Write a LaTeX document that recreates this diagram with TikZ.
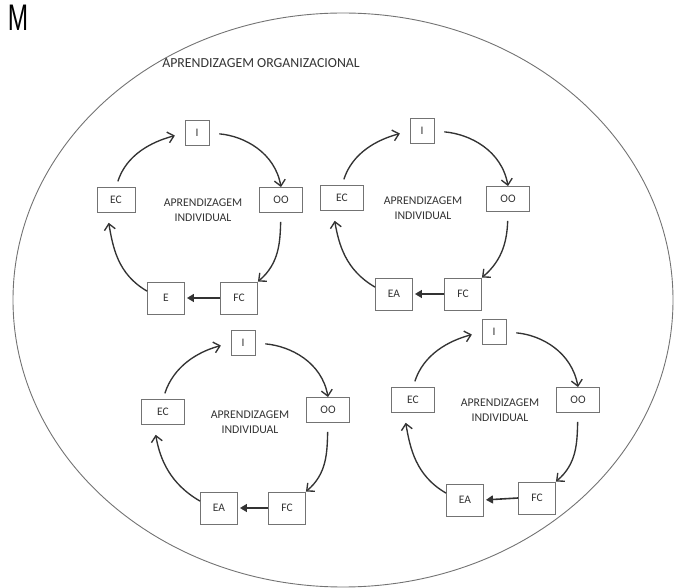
\documentclass[tikz,border=0pt]{standalone}
\usepackage{fontspec}
\setmainfont{Carlito}
\newfontfamily\narrowfont{Liberation Sans}
\usepackage{graphicx}
\usepackage{tikz}
\usetikzlibrary {arrows.meta,
                 positioning}
\definecolor{boxgray}{gray}{0.45}
\definecolor{inkgray}{gray}{0.2}
\tikzset{
        base/.style={draw=boxgray, line width=0.9pt, align=center,
                     inner sep=0pt, text=inkgray,
                     font=\fontsize{11.5}{12}\selectfont},
        small/.style={base, minimum width=24pt, minimum height=25pt},
        wide/.style={base, minimum width=43pt, minimum height=25pt},
        tall/.style={base, minimum width=37pt, minimum height=32pt},
        cyclename/.style={align=center, text=inkgray,
                          font=\fontsize{11.8}{15}\selectfont},
        myarrow/.style={-{Straight Barb[length=6pt, width=11pt]},
                        line width=1.35pt, draw=inkgray},
        myline/.style={-{Triangle[length=7pt, width=8pt]},
                       line width=1.6pt, draw=inkgray, shorten >=2pt},
 }
\begin{document}
\begin{tikzpicture}[x=1pt, y=1pt]
    \useasboundingbox (0,0) rectangle (675,587);
    \draw[boxgray, line width=0.9pt] (343,287) ellipse [x radius=330, y radius=287];
    \node (m) at (18,569) {\narrowfont\fontsize{37}{37}\selectfont\scalebox{0.66}[1]{M}};
    \node[cyclename, font=\fontsize{13.8}{15}\selectfont] (org) at (261,524)
        {APRENDIZAGEM ORGANIZACIONAL};

    \node[small] (i1) at (197,454) {I};
    \node[wide] (oo1) at (281,387) {OO};
    \node[tall] (fc1) at (239,289) {FC};
    \node[tall] (e1) at (166,289) {E};
    \node[wide, minimum width=38pt] (ec1) at (116,387) {EC};
    \node[cyclename] (ind1) at (203,377) {APRENDIZAGEM\\INDIVIDUAL};

    \draw[myarrow, shorten <=6pt, shorten >=10pt] (ec1.north) to[out=72,in=195] (i1.west);
    \draw[myarrow, shorten <=10pt] (i1.east) to[out=-5,in=100] (oo1.north);
    \draw[myarrow, shorten <=9pt] (oo1.south) to[out=-92,in=40] (fc1.north east);
    \draw[myline] (fc1.west) -- (e1.east);
    \draw[myarrow, shorten >=10pt] (e1.160) to[out=150,in=-80] (ec1.235);

    \node[small] (i2) at (422,456) {I};
    \node[wide] (oo2) at (508,388) {OO};
    \node[tall] (fc2) at (463,293) {FC};
    \node[tall] (ea2) at (394,293) {EA};
    \node[wide] (ec2) at (342,389) {EC};
    \node[cyclename] (ind2) at (423,379) {APRENDIZAGEM\\INDIVIDUAL};

    \draw[myarrow, shorten <=6pt, shorten >=10pt] (ec2.north) to[out=72,in=195] (i2.west);
    \draw[myarrow, shorten <=10pt] (i2.east) to[out=-5,in=100] (oo2.north);
    \draw[myarrow, shorten <=9pt] (oo2.south) to[out=-92,in=40] (fc2.north east);
    \draw[myline] (fc2.west) -- (ea2.east);
    \draw[myarrow, shorten >=10pt] (ea2.160) to[out=150,in=-80] (ec2.235);

    \node[small] (i3) at (243,244) {I};
    \node[wide] (oo3) at (328,177) {OO};
    \node[tall] (fc3) at (287,79) {FC};
    \node[tall] (ea3) at (219,79) {EA};
    \node[wide] (ec3) at (163,175) {EC};
    \node[cyclename] (ind3) at (250,165) {APRENDIZAGEM\\INDIVIDUAL};

    \draw[myarrow, shorten <=6pt, shorten >=10pt] (ec3.north) to[out=72,in=195] (i3.west);
    \draw[myarrow, shorten <=10pt] (i3.east) to[out=-5,in=100] (oo3.north);
    \draw[myarrow, shorten <=9pt] (oo3.south) to[out=-92,in=40] (fc3.north east);
    \draw[myline] (fc3.west) -- (ea3.east);
    \draw[myarrow, shorten >=10pt] (ea3.160) to[out=150,in=-80] (ec3.235);

    \node[small] (i4) at (494,255) {I};
    \node[wide] (oo4) at (578,187) {OO};
    \node[tall] (fc4) at (537,89) {FC};
    \node[tall] (ea4) at (465,87) {EA};
    \node[wide] (ec4) at (413,187) {EC};
    \node[cyclename] (ind4) at (500,177) {APRENDIZAGEM\\INDIVIDUAL};

    \draw[myarrow, shorten <=6pt, shorten >=10pt] (ec4.north) to[out=72,in=195] (i4.west);
    \draw[myarrow, shorten <=10pt] (i4.east) to[out=-5,in=100] (oo4.north);
    \draw[myarrow, shorten <=9pt] (oo4.south) to[out=-92,in=40] (fc4.north east);
    \draw[myline] (fc4.west) -- (ea4.east);
    \draw[myarrow, shorten >=10pt] (ea4.160) to[out=150,in=-80] (ec4.235);
\end{tikzpicture}
\end{document}
